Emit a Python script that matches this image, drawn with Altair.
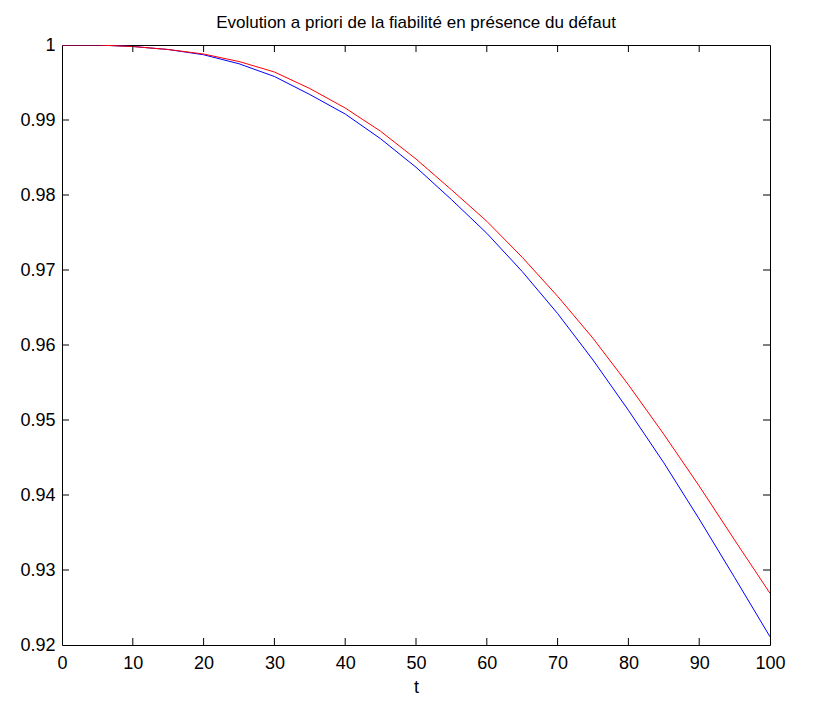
import altair as alt
import pandas as pd

t_values = [0, 5, 10, 15, 20, 25, 30, 35, 40, 45, 50, 55, 60, 65, 70, 75, 80, 85, 90, 95, 100]
red_values = [1.0, 1.0, 0.9998, 0.9994, 0.9988, 0.9978, 0.9964, 0.9942, 0.9916, 0.9885,
              0.9848, 0.9807, 0.9765, 0.9717, 0.9665, 0.9609, 0.9547, 0.9481, 0.9412, 0.9340, 0.9269]
blue_values = [1.0, 1.0, 0.9998, 0.9994, 0.9987, 0.9975, 0.9958, 0.9934, 0.9908, 0.9875,
               0.9837, 0.9794, 0.9749, 0.9698, 0.9642, 0.9580, 0.9513, 0.9443, 0.9368, 0.9290, 0.9211]
x_ticks = [0, 10, 20, 30, 40, 50, 60, 70, 80, 90, 100]
y_ticks = [0.92, 0.93, 0.94, 0.95, 0.96, 0.97, 0.98, 0.99, 1.0]

W, H = 708, 600
FONT = "Liberation Sans"

df = pd.DataFrame({
    "t": t_values * 2,
    "R": blue_values + red_values,
    "serie": ["bleu"] * len(t_values) + ["rouge"] * len(t_values),
})
xt = pd.DataFrame({"t": x_ticks[1:-1]})
yt = pd.DataFrame({"R": y_ticks[1:-1]})

xs = alt.Scale(domain=[0, 100], nice=False, zero=False)
ys = alt.Scale(domain=[0.92, 1.0], nice=False, zero=False)

lines = alt.Chart(df).mark_line(strokeWidth=1, clip=True).encode(
    x=alt.X("t:Q", scale=xs, title="t",
            axis=alt.Axis(values=x_ticks, tickSize=0, domain=False, grid=False,
                          labelPadding=9, titlePadding=6, labelFlush=False,
                          labelFont=FONT, labelFontSize=18, labelColor="black",
                          titleFont=FONT, titleFontSize=18, titleColor="black",
                          titleFontWeight="normal")),
    y=alt.Y("R:Q", scale=ys, title=None,
            axis=alt.Axis(values=y_ticks, tickSize=0, domain=False, grid=False,
                          labelPadding=7, labelFont=FONT, labelFontSize=18, labelColor="black",
                          labelExpr="datum.value >= 0.9999 ? '1' : format(datum.value, '.2f')")),
    color=alt.Color("serie:N", scale=alt.Scale(domain=["bleu", "rouge"], range=["#0000ff", "#ff0000"]),
                    legend=None),
    order=alt.Order("serie:N"),
)

tick_len = 7
bottom_ticks = alt.Chart(xt).mark_rule(color="black", strokeWidth=1).encode(
    x=alt.X("t:Q", scale=xs), y=alt.value(H), y2=alt.value(H - tick_len))
top_ticks = alt.Chart(xt).mark_rule(color="black", strokeWidth=1).encode(
    x=alt.X("t:Q", scale=xs), y=alt.value(0), y2=alt.value(tick_len))
left_ticks = alt.Chart(yt).mark_rule(color="black", strokeWidth=1).encode(
    y=alt.Y("R:Q", scale=ys), x=alt.value(0), x2=alt.value(tick_len))
right_ticks = alt.Chart(yt).mark_rule(color="black", strokeWidth=1).encode(
    y=alt.Y("R:Q", scale=ys), x=alt.value(W), x2=alt.value(W - tick_len))

chart = alt.layer(lines, bottom_ticks, top_ticks, left_ticks, right_ticks).properties(
    width=W, height=H,
    background="white",
    title=alt.TitleParams("Evolution a priori de la fiabilité en présence du défaut",
                          font=FONT, fontSize=17, fontWeight="normal", color="black",
                          offset=4, anchor="middle"),
    autosize=alt.AutoSizeParams(type="none"),
    padding={"left": 54, "top": 37, "right": 35, "bottom": 52},
).configure_view(
    stroke="black", strokeWidth=1
)

chart.save("out.html", embed_options={"renderer": "svg", "actions": False})
